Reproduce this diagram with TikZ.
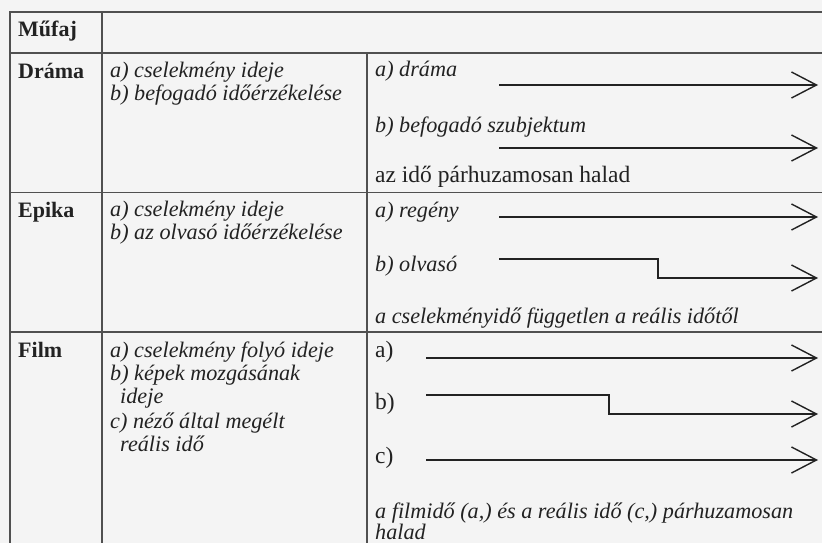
\documentclass[tikz,border=0pt]{standalone}
\usepackage{fontspec}
\setmainfont{Liberation Serif}
\usetikzlibrary{arrows.meta}
\definecolor{bg}{HTML}{F4F4F4}
\definecolor{rulec}{HTML}{505050}
\definecolor{ink}{HTML}{222222}
\begin{document}
\begin{tikzpicture}[x=1pt,y=-1pt,
  txt/.style={anchor=base west, inner sep=0pt, text=ink, font=\fontsize{23.5}{24}\selectfont},
  ital/.style={txt, font=\fontsize{22.2}{24}\selectfont\itshape},
  hd/.style={txt, font=\fontsize{22}{24}\selectfont\bfseries},
  gridline/.style={draw=rulec, line width=1.2pt},
  timeline/.style={draw=ink, line width=1.6pt, line join=miter,
    -{Straight Barb[length=25pt,width=26pt,line width=1.4pt]}}]
\fill[bg] (0,0) rectangle (822,543);
\useasboundingbox (0,0) rectangle (822,543);
% grid
\draw[gridline] (822,12) -- (10,12) -- (10,543);
\draw[gridline] (10,53) -- (822,53);
\draw[gridline] (10,192.5) -- (822,192.5);
\draw[gridline] (10,332) -- (822,332);
\draw[gridline] (102,12) -- (102,543);
\draw[gridline] (367,53) -- (367,543);
% header
\node[hd] (mufaj) at (18,37) {Műfaj};
% Drama
\node[hd] (drama) at (18,78) {Dráma};
\node[ital] (dra1) at (110,77.5) {a) cselekmény ideje};
\node[ital] (dra2) at (110,100) {b) befogadó időérzékelése};
\node[ital] (drc1) at (375,77) {a) dráma};
\node[ital] (drc2) at (375,132) {b) befogadó szubjektum};
\node[txt] (drc3) at (375,182) {az idő párhuzamosan halad};
\coordinate (da0) at (499,85);
\coordinate (da1) at (818,85);
\draw[timeline] (da0) -- (da1);
\coordinate (db0) at (499,148);
\coordinate (db1) at (818,148);
\draw[timeline] (db0) -- (db1);
% Epika
\node[hd] (epika) at (18,217) {Epika};
\node[ital] (ep1) at (110,216.5) {a) cselekmény ideje};
\node[ital] (ep2) at (110,239) {b) az olvasó időérzékelése};
\node[ital] (epc1) at (375,217) {a) regény};
\node[ital] (epc2) at (375,271) {b) olvasó};
\node[ital] (epc3) at (375,323) {a cselekményidő független a reális időtől};
\coordinate (ea0) at (499,217);
\coordinate (ea1) at (818,217);
\draw[timeline] (ea0) -- (ea1);
\coordinate (eb0) at (499,259);
\coordinate (eb1) at (658,259);
\coordinate (eb2) at (658,278);
\coordinate (eb3) at (818,278);
\draw[timeline] (eb0) -- (eb1) -- (eb2) -- (eb3);
% Film
\node[hd] (film) at (18,357) {Film};
\node[ital] (fi1) at (110,357) {a) cselekmény folyó ideje};
\node[ital] (fi2) at (110,380.5) {b) képek mozgásának};
\node[ital] (fi3) at (120,403.5) {ideje};
\node[ital] (fi4) at (110,428) {c) néző által megélt};
\node[ital] (fi5) at (120,451.5) {reális idő};
\node[txt] (fc1) at (375,357) {a)};
\node[txt] (fc2) at (375,409) {b)};
\node[txt] (fc3) at (375,463) {c)};
\node[ital] (fc4) at (375,518) {a filmidő (a,) és a reális idő (c,) párhuzamosan};
\node[ital] (fc5) at (375,539) {halad};
\coordinate (fa0) at (426,358);
\coordinate (fa1) at (818,358);
\draw[timeline] (fa0) -- (fa1);
\coordinate (fb0) at (426,395);
\coordinate (fb1) at (609,395);
\coordinate (fb2) at (609,414);
\coordinate (fb3) at (818,414);
\draw[timeline] (fb0) -- (fb1) -- (fb2) -- (fb3);
\coordinate (fcc0) at (426,460);
\coordinate (fcc1) at (818,460);
\draw[timeline] (fcc0) -- (fcc1);
\end{tikzpicture}
\end{document}
